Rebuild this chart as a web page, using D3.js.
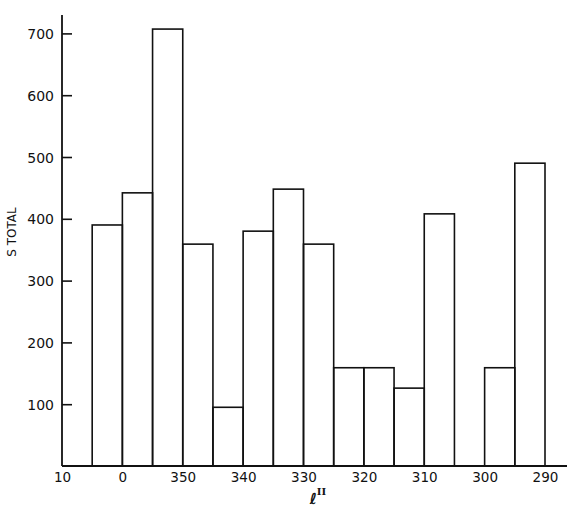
<!DOCTYPE html>
<html><head><meta charset="utf-8">
<script src="https://cdn.jsdelivr.net/npm/d3@7"></script>
<style>body{margin:0;background:#fff}svg{display:block}text{font-family:"DejaVu Sans",sans-serif;fill:#111}</style>
</head><body><svg id="c" width="570" height="519"></svg>
<script>
// bin left edges (degrees, 0..-70 meaning 360..290), 5-degree bins
const binStart = [5, 0, -5, -10, -15, -20, -25, -30, -35, -40, -45, -50, -55, -60, -65];
const sTotal   = [390, 442, 707, 359, 95, 380, 448, 359, 159, 159, 126, 408, 0, 159, 490];
const xTickVals = [10, 0, -10, -20, -30, -40, -50, -60, -70];
const xTickLabels = ["10", "0", "350", "340", "330", "320", "310", "300", "290"];
const yTickVals = [100, 200, 300, 400, 500, 600, 700];

const svg = d3.select("#c");
const x = d3.scaleLinear().domain([10, -70]).range([62, 545]);
const y = d3.scaleLinear().domain([0, 700]).range([466, 33.4]);
const ink = "#111";

// bars
svg.append("g").selectAll("rect").data(binStart.map((s,i)=>({s, v:sTotal[i]})).filter(d=>d.v>0))
  .join("rect")
  .attr("x", d=>x(d.s)).attr("width", d=>x(d.s-5)-x(d.s))
  .attr("y", d=>y(d.v)).attr("height", d=>y(0)-y(d.v))
  .attr("fill", "none").attr("stroke", ink).attr("stroke-width", 1.6);

// axes lines
svg.append("line").attr("x1", 62).attr("x2", 62).attr("y1", 15).attr("y2", y(0)).attr("stroke", ink).attr("stroke-width", 1.8);
svg.append("line").attr("x1", 62).attr("x2", 567).attr("y1", y(0)).attr("y2", y(0)).attr("stroke", ink).attr("stroke-width", 1.8);

// y ticks (inward)
const yAxis = d3.axisRight(y).tickValues(yTickVals).tickSize(10).tickFormat(d3.format("d"));
const gy = svg.append("g").attr("transform", "translate(62,0)").call(yAxis);
gy.select(".domain").remove();
gy.selectAll(".tick line").attr("stroke", ink).attr("stroke-width", 1.6);
gy.selectAll(".tick text").attr("x", -8).attr("text-anchor", "end").attr("font-size", 14).attr("font-family", "DejaVu Sans").attr("dy", "0.36em");

// x tick labels
const xAxis = d3.axisBottom(x).tickValues(xTickVals).tickSize(0).tickFormat((d,i)=>xTickLabels[i]);
const gx = svg.append("g").attr("transform", `translate(0,${y(0)})`).call(xAxis);
gx.select(".domain").remove();
gx.selectAll(".tick text").attr("y", 6).attr("font-size", 13.5).attr("font-family", "DejaVu Sans");

// axis titles
svg.append("text").attr("transform", "translate(16,232) rotate(-90)").attr("text-anchor", "middle")
  .attr("font-size", 12).text("S TOTAL");
const xt = svg.append("text").attr("x", 318).attr("y", 504).attr("text-anchor", "middle").attr("font-size", 15).attr("font-style", "italic").attr("font-weight", "bold");
xt.append("tspan").text("ℓ");
xt.append("tspan").attr("dy", -9).attr("font-size", 10).attr("font-style", "normal").attr("font-family", "DejaVu Serif").text("II");
</script></body></html>
